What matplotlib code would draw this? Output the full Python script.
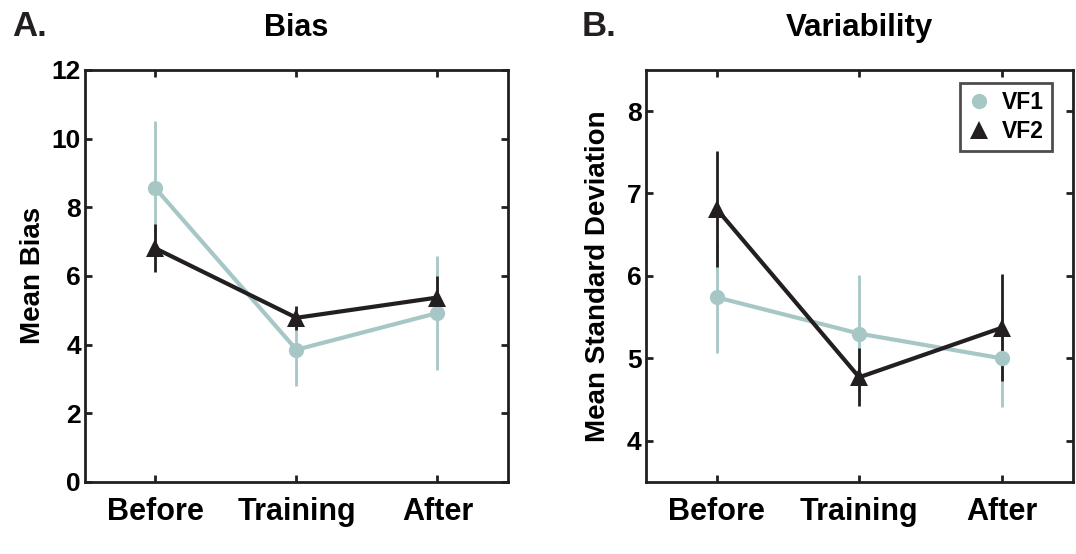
import numpy as np
import matplotlib
matplotlib.use("Agg")
import matplotlib.pyplot as plt
from matplotlib.lines import Line2D

plt.rcParams['font.family'] = ['Liberation Sans', 'DejaVu Sans']
plt.rcParams['font.weight'] = 'bold'

# conditions on the x axis
conditions = ["Before", "Training", "After"]

# A. bias (mean, error)
bias_vf1 = [8.55, 3.85, 4.92]
bias_vf1_err = [1.95, 1.05, 1.67]
bias_vf2 = [6.8, 4.78, 5.37]
bias_vf2_err = [0.7, 0.35, 0.64]

# B. variability (mean SD, error)
var_vf1 = [5.74, 5.3, 5.0]
var_vf1_err = [0.67, 0.71, 0.59]
var_vf2 = [6.81, 4.77, 5.37]
var_vf2_err = [0.7, 0.35, 0.65]

LIGHT = "#a7c7c7"
DARK = "#231f20"

fig = plt.figure(figsize=(10.76, 5.54), dpi=100)
ax_a = fig.add_axes([0.079, 0.130, 0.393, 0.744])
ax_b = fig.add_axes([0.600, 0.130, 0.397, 0.744])

x = np.arange(1, len(conditions) + 1)


def draw_panel(ax, vf1, vf1_err, vf2, vf2_err):
    ax.errorbar(x, vf1, yerr=vf1_err, color=LIGHT, marker='o', markersize=11,
                markeredgewidth=0, linewidth=3, elinewidth=2, capsize=2.5,
                capthick=2)
    ax.errorbar(x, vf2, yerr=vf2_err, color=DARK, marker='^', markersize=13,
                markeredgewidth=0, linewidth=3, elinewidth=2, capsize=2.5,
                capthick=2)
    ax.set_xlim(0.5, 3.5)
    ax.set_xticks(x)
    ax.set_xticklabels(conditions, fontsize=22, fontweight='bold')
    ax.tick_params(axis='both', direction='in', top=True, right=True,
                   length=5, width=2, color=DARK)
    ax.tick_params(axis='x', pad=11)
    ax.tick_params(axis='y', labelsize=19, pad=3)
    for s in ax.spines.values():
        s.set_linewidth(2)
        s.set_color(DARK)


# ---- panel A
draw_panel(ax_a, bias_vf1, bias_vf1_err, bias_vf2, bias_vf2_err)
ax_a.set_ylim(0, 12)
ax_a.set_yticks(np.arange(0, 13, 2))
ax_a.set_ylabel("Mean Bias", fontsize=20, fontweight='bold')
ax_a.yaxis.set_label_coords(-0.092, 0.5)
ax_a.set_title("Bias", fontsize=22, fontweight='bold', pad=24)

# ---- panel B
draw_panel(ax_b, var_vf1, var_vf1_err, var_vf2, var_vf2_err)
ax_b.set_ylim(3.5, 8.5)
ax_b.set_yticks([4, 5, 6, 7, 8])
ax_b.set_ylabel("Mean Standard Deviation", fontsize=20, fontweight='bold')
ax_b.yaxis.set_label_coords(-0.082, 0.5)
ax_b.set_title("Variability", fontsize=22.5, fontweight='bold', pad=24)

# legend shows markers only
handles = [
    Line2D([], [], linestyle='none', marker='o', markersize=11,
           markeredgewidth=0, color=LIGHT),
    Line2D([], [], linestyle='none', marker='^', markersize=13,
           markeredgewidth=0, color=DARK),
]
leg = ax_b.legend(handles, ["VF1", "VF2"], loc='upper right',
                  bbox_to_anchor=(0.952, 0.968), fontsize=16.5,
                  frameon=True, fancybox=False, handlelength=1.0,
                  handletextpad=0.5, borderpad=0.35, labelspacing=0.25,
                  borderaxespad=0)
leg.get_frame().set_edgecolor(DARK)
leg.get_frame().set_linewidth(2)
for t in leg.get_texts():
    t.set_fontweight('bold')

# panel letters
fig.text(0.011, 0.935, "A.", fontsize=25, fontweight='bold', color=DARK)
fig.text(0.541, 0.935, "B.", fontsize=25, fontweight='bold', color=DARK)

fig.savefig("out.png", dpi=100)
